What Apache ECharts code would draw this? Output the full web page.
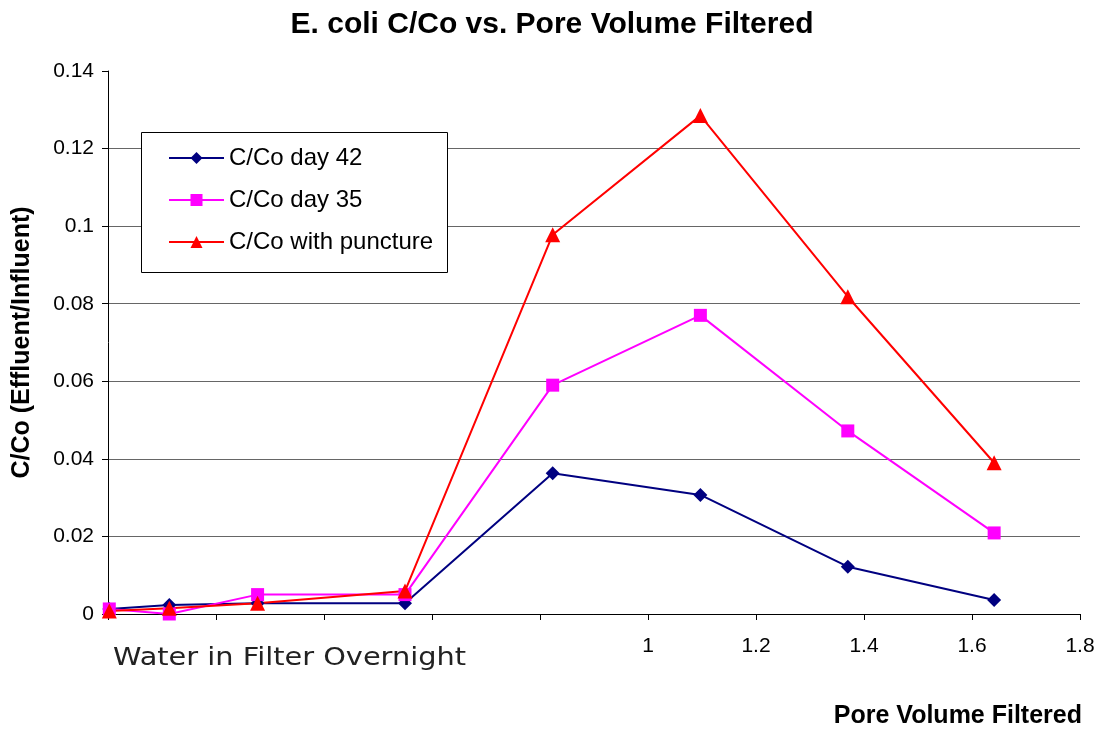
<!DOCTYPE html>
<html>
<head>
<meta charset="utf-8">
<script src="https://cdn.jsdelivr.net/npm/echarts@6/dist/echarts.min.js"></script>
<style>html,body{margin:0;padding:0;background:#fff}#c{width:1104px;height:729px}</style>
</head>
<body>
<div id="c"></div>
<script>
const poreVolume = [0.0024, 0.1135, 0.277, 0.55, 0.8235, 1.097, 1.370, 1.641];
const day42 = [0.0013, 0.0023, 0.0028, 0.0028, 0.0363, 0.0307, 0.0122, 0.0036];
const day35 = [0.0013, 0.0000, 0.0050, 0.0050, 0.0590, 0.0770, 0.0472, 0.0209];
const puncture = [0.0008, 0.0015, 0.0028, 0.0059, 0.0978, 0.1285, 0.0818, 0.0390];
const seriesNames = ['C/Co day 42', 'C/Co day 35', 'C/Co with puncture'];
const titleText = 'E. coli C/Co vs. Pore Volume Filtered';
const xName = 'Pore Volume Filtered';
const yName = 'C/Co (Effluent/Influent)';
const overnightLabel = 'Water in Filter Overnight';

const pair = arr => poreVolume.map((x, i) => [x, arr[i]]);
const font = 'Liberation Sans, Arial, sans-serif';
const chart = echarts.init(document.getElementById('c'));
chart.setOption({
  backgroundColor: '#fff',
  animation: false,
  textStyle: { fontFamily: font, color: '#000' },
  title: {
    text: titleText, left: 'center', top: 5,
    textStyle: { fontFamily: font, fontSize: 30, fontWeight: 'bold', color: '#000' }
  },
  grid: { left: 108, right: 24, top: 71, bottom: 115, containLabel: false },
  xAxis: {
    type: 'value', min: 0, max: 1.8, interval: 0.2,
    axisLine: { show: true, lineStyle: { color: '#000', width: 1 } },
    axisTick: { show: true, length: 6, lineStyle: { color: '#000' } },
    axisLabel: {
      fontSize: 21, color: '#000', margin: 22, fontFamily: font,
      formatter: v => (v >= 0.999 ? String(Math.round(v * 10) / 10) : '')
    },
    splitLine: { show: false }
  },
  yAxis: {
    type: 'value', min: 0, max: 0.14, interval: 0.02,
    name: yName, nameLocation: 'middle', nameGap: 73,
    nameTextStyle: { fontSize: 25, fontWeight: 'bold', color: '#000', fontFamily: font },
    axisLine: { show: true, lineStyle: { color: '#000', width: 1 } },
    axisTick: { show: true, length: 6, lineStyle: { color: '#000' } },
    axisLabel: { fontSize: 21, color: '#000', margin: 14, fontFamily: font,
      formatter: v => String(Math.round(v * 100) / 100) },
    splitLine: { show: true, showMinLine: false, showMaxLine: false, lineStyle: { color: '#666', width: 1 } }
  },
  legend: {
    orient: 'vertical', left: 163, top: 141, z: 10,
    itemWidth: 55, itemHeight: 15, itemGap: 18,
    textStyle: { fontSize: 24, color: '#000', fontFamily: font, lineHeight: 24 },
    data: seriesNames
  },
  graphic: [
    { type: 'rect', left: 141, top: 132, z: 5, shape: { width: 306, height: 140 },
      style: { fill: '#fff', stroke: '#000', lineWidth: 1 } },
    { type: 'text', x: 113, y: 647, z: 5, scaleX: 1.2, originX: 0,
      style: { text: overnightLabel, font: '24px "DejaVu Sans", Verdana, sans-serif', fill: '#222' } },
    { type: 'text', right: 22, top: 704, z: 5,
      style: { text: xName, font: 'bold 25px "Liberation Sans", Arial, sans-serif', fill: '#000' } }
  ],
  series: [
    { name: seriesNames[0], type: 'line', data: pair(day42), symbol: 'diamond', symbolSize: 14,
      lineStyle: { color: '#000080', width: 2 }, itemStyle: { color: '#000080' } },
    { name: seriesNames[1], type: 'line', data: pair(day35), symbol: 'rect', symbolSize: 13,
      lineStyle: { color: '#FF00FF', width: 2 }, itemStyle: { color: '#FF00FF' } },
    { name: seriesNames[2], type: 'line', data: pair(puncture), symbol: 'triangle', symbolSize: 15,
      lineStyle: { color: '#FF0000', width: 2 }, itemStyle: { color: '#FF0000' } }
  ]
});
</script>
</body>
</html>
